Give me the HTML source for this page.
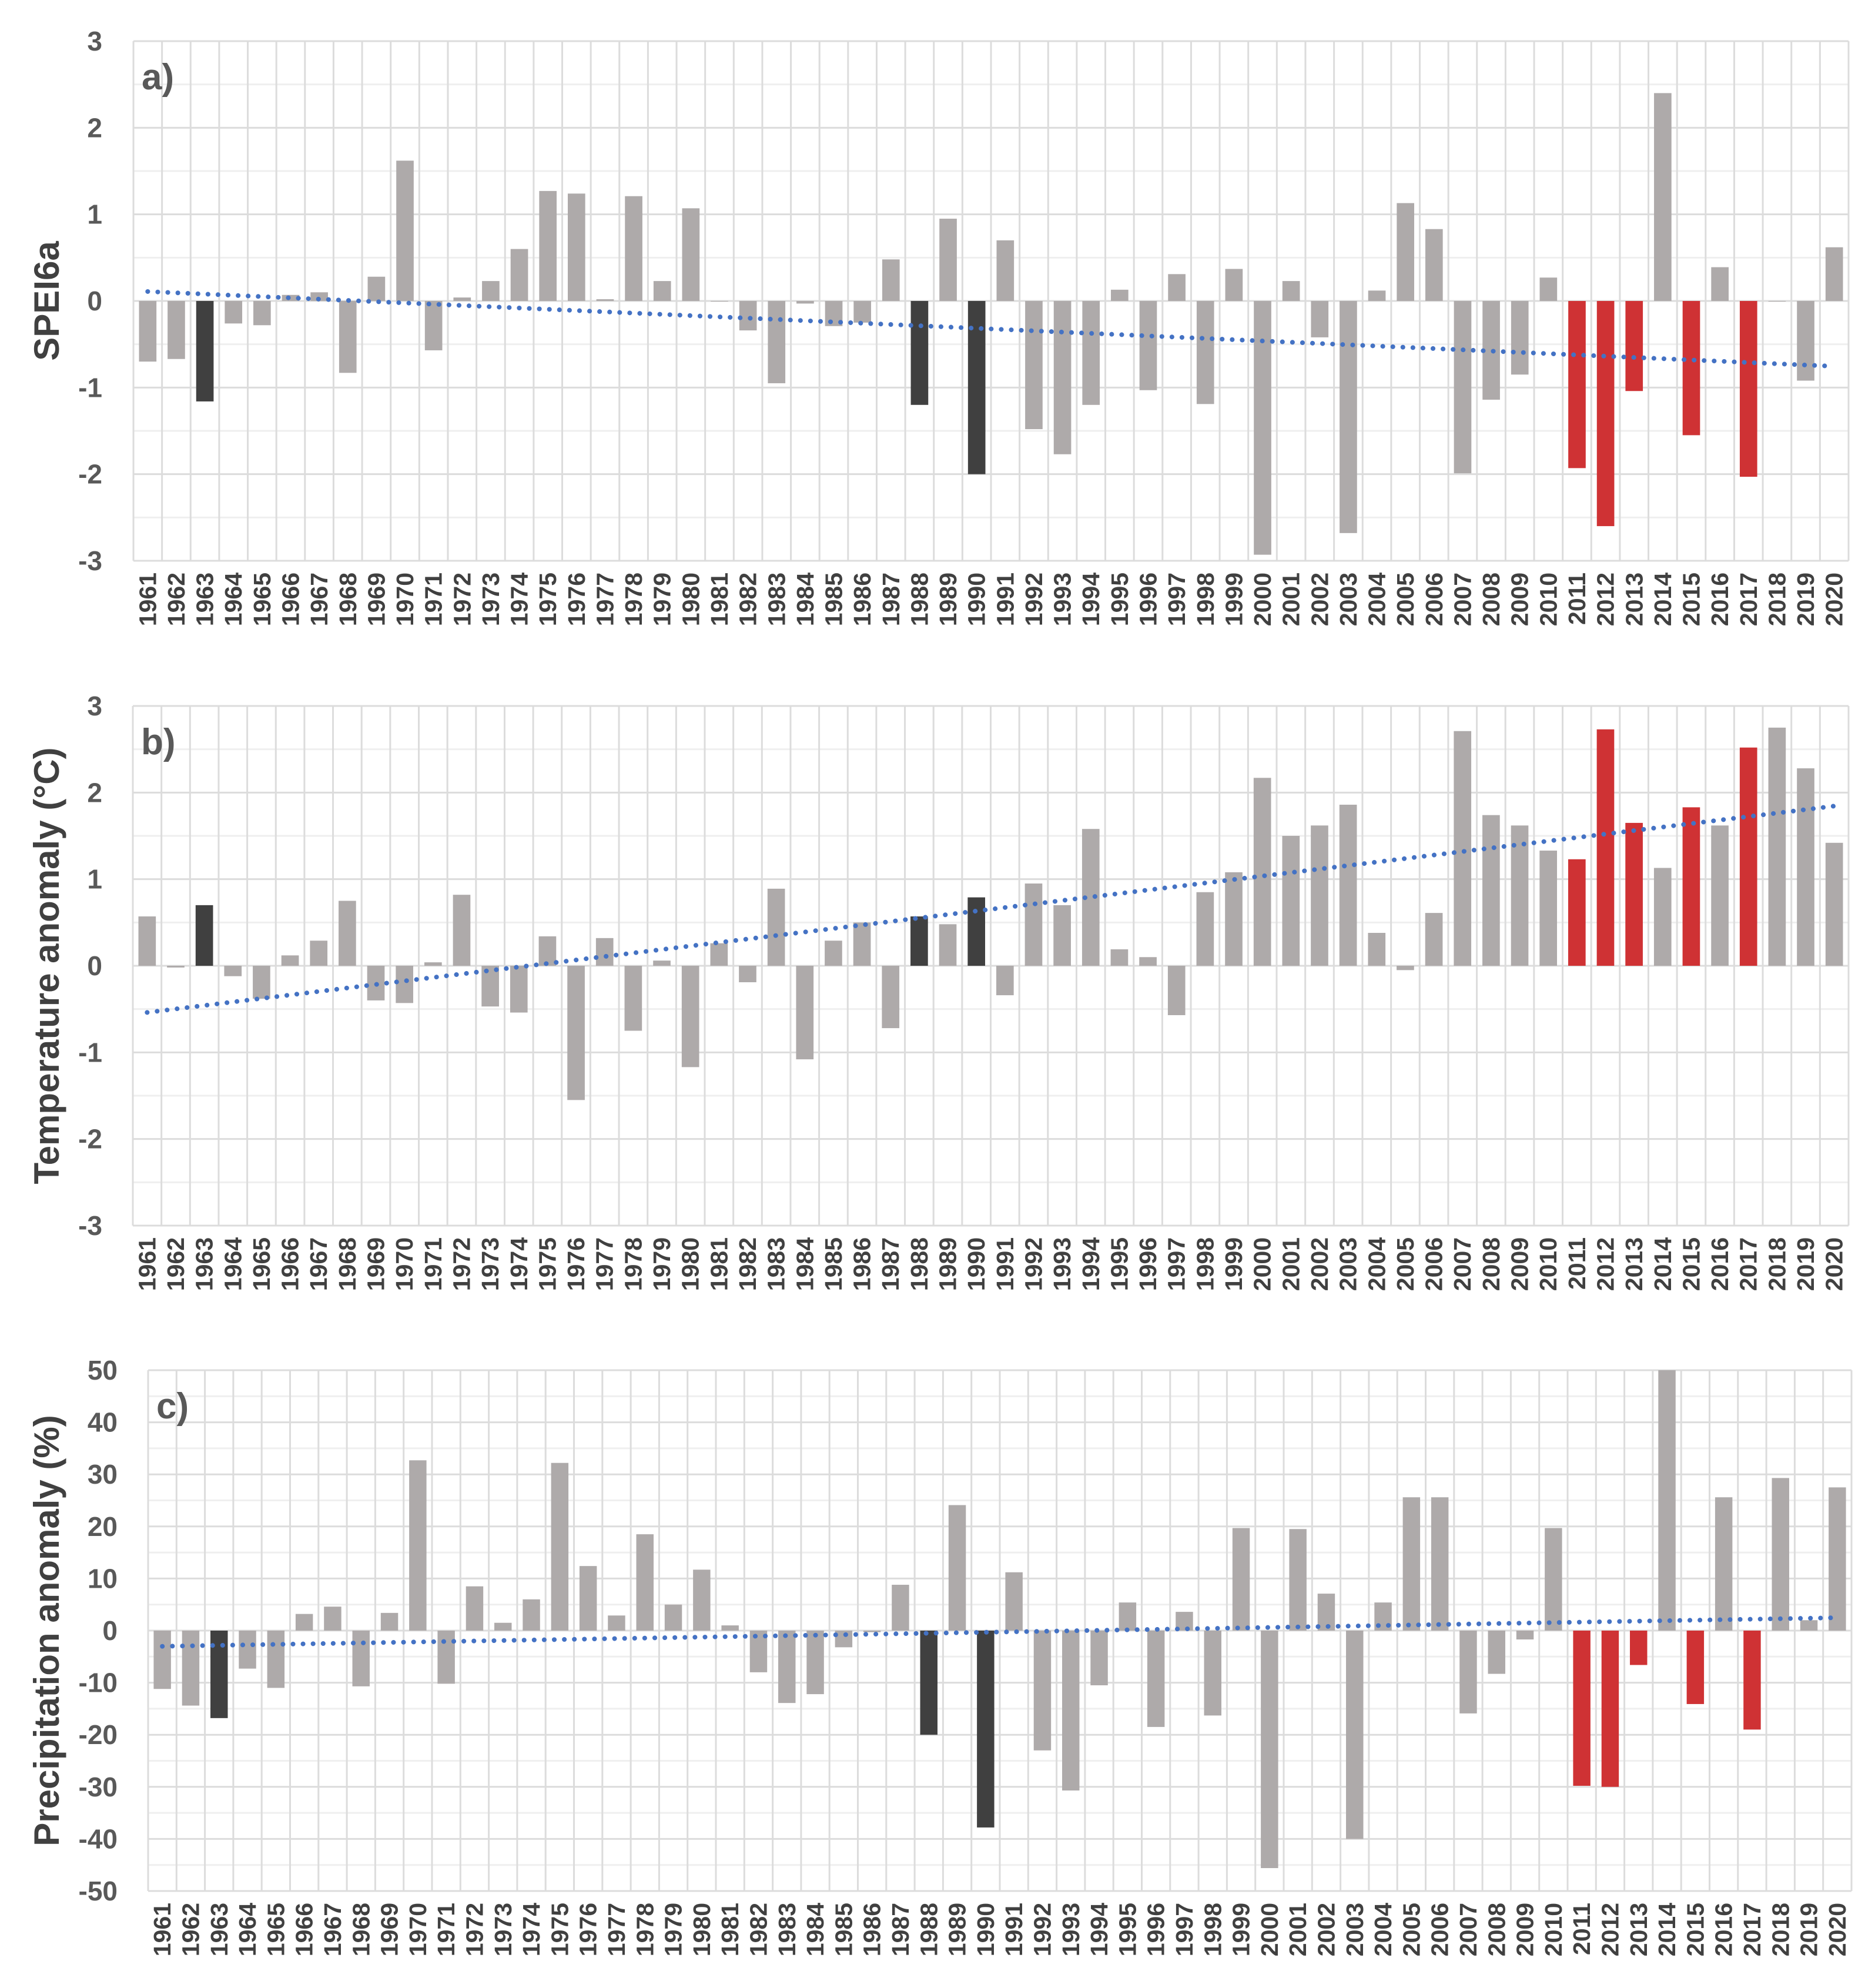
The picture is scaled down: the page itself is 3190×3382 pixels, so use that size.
<!DOCTYPE html>
<html><head><meta charset="utf-8"><style>
html,body{margin:0;padding:0;background:#fff;}
svg{display:block;font-family:"Liberation Sans",sans-serif;}
</style></head><body>
<svg id="fig" width="3190" height="3382" viewBox="0 0 3190 3382" xmlns="http://www.w3.org/2000/svg"></svg>
<script>
const years = [];
for (let y = 1961; y <= 2020; y++) years.push(y);
const speiValues = [-0.70,-0.67,-1.16,-0.26,-0.28,0.07,0.10,-0.83,0.28,1.62,-0.57,0.04,0.23,0.60,1.27,1.24,0.02,1.21,0.23,1.07,0.00,-0.34,-0.95,-0.03,-0.29,-0.25,0.48,-1.20,0.95,-2.00,0.70,-1.48,-1.77,-1.20,0.13,-1.03,0.31,-1.19,0.37,-2.93,0.23,-0.42,-2.68,0.12,1.13,0.83,-1.99,-1.14,-0.85,0.27,-1.93,-2.60,-1.04,2.40,-1.55,0.39,-2.03,0.00,-0.92,0.62];
const tempValues = [0.57,-0.02,0.70,-0.12,-0.38,0.12,0.29,0.75,-0.40,-0.43,0.04,0.82,-0.47,-0.54,0.34,-1.55,0.32,-0.75,0.06,-1.17,0.26,-0.19,0.89,-1.08,0.29,0.50,-0.72,0.57,0.48,0.79,-0.34,0.95,0.70,1.58,0.19,0.10,-0.57,0.85,1.08,2.17,1.50,1.62,1.86,0.38,-0.05,0.61,2.71,1.74,1.62,1.33,1.23,2.73,1.65,1.13,1.83,1.62,2.52,2.75,2.28,1.42];
const precValues = [-11.2,-14.4,-16.8,-7.3,-11.0,3.2,4.6,-10.7,3.4,32.7,-10.2,8.5,1.5,6.0,32.2,12.4,2.9,18.5,5.0,11.7,1.0,-8.0,-13.9,-12.2,-3.2,-0.3,8.8,-20.0,24.1,-37.8,11.2,-23.0,-30.7,-10.5,5.4,-18.5,3.6,-16.3,19.7,-45.6,19.5,7.1,-40.0,5.4,25.6,25.6,-15.9,-8.3,-1.7,19.7,-29.8,-30.0,-6.6,67.0,-14.1,25.6,-19.0,29.3,2.0,27.5];
const darkYears = [1963,1988,1990];
const redYears = [2011,2012,2013,2015,2017];
const speiTicks = [-3,-2,-1,0,1,2,3];
const tempTicks = [-3,-2,-1,0,1,2,3];
const precTicks = [-50,-40,-30,-20,-10,0,10,20,30,40,50];

const NS = "http://www.w3.org/2000/svg";
const svg = document.getElementById('fig');
function el(tag, attrs, parent){
  const e = document.createElementNS(NS, tag);
  for (const k in attrs) e.setAttribute(k, attrs[k]);
  (parent||svg).appendChild(e);
  return e;
}
function regression(vals){
  const n = vals.length; let sx=0,sy=0,sxy=0,sxx=0;
  vals.forEach((v,i)=>{sx+=i;sy+=v;sxy+=i*v;sxx+=i*i;});
  const b=(n*sxy-sx*sy)/(n*sxx-sx*sx); const a=(sy-b*sx)/n;
  return [a,b];
}
function panel(cfg){
  const g = el('g',{});
  
  
  const L=cfg.left,R=cfg.right,T=cfg.top,B=cfg.bottom;
  const min=cfg.ticks[0], max=cfg.ticks[cfg.ticks.length-1];
  const yS = v => B - (Math.max(min,Math.min(max,v))-min)/(max-min)*(B-T);
  const cw = (R-L)/years.length;
  const xS = i => L + cw*(i+0.5);
  for (let i=0;i<cfg.ticks.length-1;i++){
    const v=(cfg.ticks[i]+cfg.ticks[i+1])/2;
    const ln=el('line',{x1:L,x2:R,y1:yS(v),y2:yS(v),stroke:'#efefef','stroke-width':3},g);
    
    
  }
  cfg.ticks.forEach(t=>{
    const ln=el('line',{x1:L,x2:R,y1:yS(t),y2:yS(t),stroke:'#dcdcdc','stroke-width':3},g);
    
    
    const tx=el('text',{x:cfg.tickX,y:yS(t)+16,'text-anchor':'end','font-size':46,'font-weight':'bold',fill:'#595959'},g);
    tx.textContent=String(t);
    
    
  });
  for (let i=0;i<=years.length;i++){
    const x=L+cw*i;
    const ln=el('line',{x1:x,x2:x,y1:T,y2:B,stroke:'#dcdcdc','stroke-width':3},g);
    
    
  }
  const bw=cw*0.61;
  cfg.values.forEach((v,i)=>{
    const yr=years[i];
    const c = redYears.includes(yr)?'#cf3234':(darkYears.includes(yr)?'#404040':'#aeaaaa');
    const y0=yS(0), y1=yS(v);
    const r=el('rect',{x:xS(i)-bw/2,y:Math.min(y0,y1),width:bw,height:Math.max(Math.abs(y1-y0),1),fill:c},g);
    
    
    const lt=el('text',{x:0,y:0,'text-anchor':'end','font-size':41,'font-weight':'bold',fill:'#404040',
      transform:`translate(${xS(i)+14},${B+20}) rotate(-90)`},g);
    lt.textContent=String(yr);
    
    
  });
  const [a,b]=regression(cfg.values);
  const n=years.length-1;
  const tl=el('line',{x1:xS(0),y1:yS(a),x2:xS(n),y2:yS(a+b*n),stroke:'#4472c4','stroke-width':8,
    'stroke-linecap':'round','stroke-dasharray':'0.1 17'},g);
  
  
  const tt=el('text',{x:0,y:0,'text-anchor':'middle','font-size':60,'font-weight':'bold',fill:'#404040',
    transform:`translate(100,${(T+B)/2}) rotate(-90)`},g);
  tt.textContent=cfg.title;
  
  
  const pl=el('text',{x:L+14,y:T+82,'font-size':62,'font-weight':'bold',fill:'#595959'},g);
  pl.textContent=cfg.letter;
  
  
}
panel({name:'panel-a-spei',values:speiValues,ticks:speiTicks,left:227,right:3145,top:70,bottom:954,tickX:174,title:'SPEI6a',letter:'a)'});
panel({name:'panel-b-temperature',values:tempValues,ticks:tempTicks,left:226,right:3145,top:1201,bottom:2085,tickX:174,title:'Temperature anomaly (°C)',letter:'b)'});
panel({name:'panel-c-precipitation',values:precValues,ticks:precTicks,left:252,right:3150,top:2331,bottom:3217,tickX:200,title:'Precipitation anomaly (%)',letter:'c)'});
</script>
</body></html>
